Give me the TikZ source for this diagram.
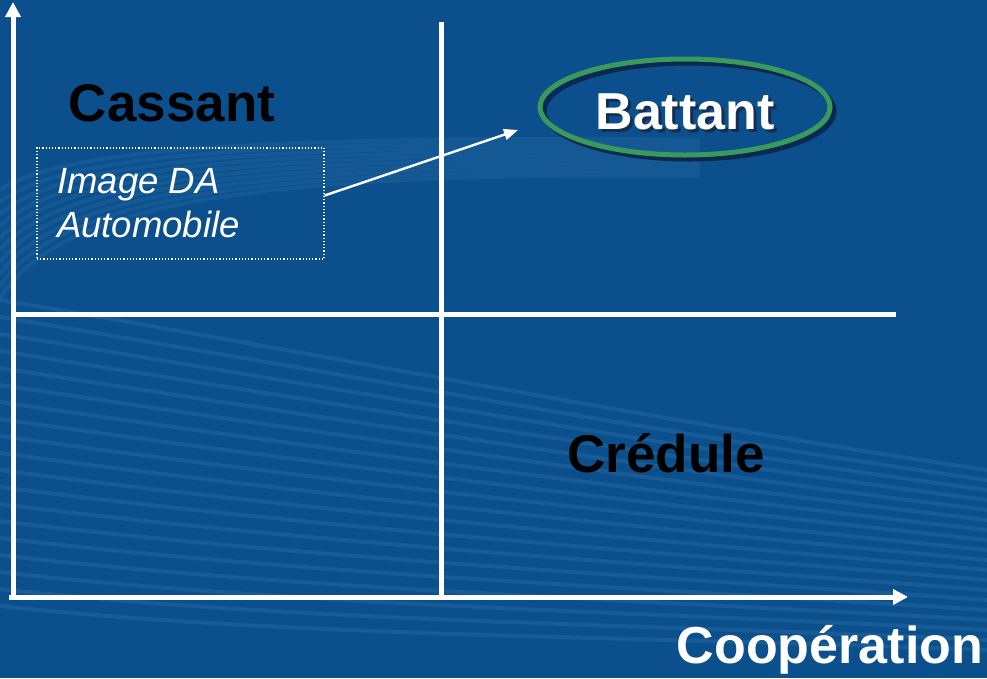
\documentclass[tikz,border=0pt]{standalone}
\usepackage{fontspec}
\setmainfont{Liberation Sans}
\usetikzlibrary{arrows.meta,shapes.geometric}
\definecolor{bgblue}{RGB}{11,80,141}
\definecolor{streak}{RGB}{130,190,240}
\definecolor{ringgreen}{RGB}{58,154,92}
\definecolor{ringshadow}{RGB}{10,40,80}
\definecolor{textshadow}{RGB}{20,45,80}
\tikzset{
  axisline/.style={white,line width=5pt},
  axisarrow/.style={white,line width=5pt,-{Triangle[length=15pt,width=15pt]}},
  quadlabel/.style={font=\fontsize{53}{60}\selectfont\bfseries,text=black,inner sep=0pt},
  whitelabel/.style={font=\fontsize{52}{60}\selectfont\bfseries,text=white,inner sep=0pt},
  notebox/.style={draw=white,dotted,line width=1.2pt,minimum width=287pt,minimum height=111pt,inner sep=0pt},
  notetext/.style={font=\fontsize{36.5}{44}\selectfont\itshape,text=white,align=left,inner sep=0pt},
  linkarrow/.style={white,line width=2.4pt,-{Triangle[length=14pt,width=11pt]}},
  streakline/.style={streak,opacity=0.10,line width=4pt}
}
\begin{document}
\begin{tikzpicture}[x=1pt,y=-1pt]
\fill[bgblue] (0,0) rectangle (987,678);
\useasboundingbox (0,0) rectangle (987,678);
% background streaks
\foreach \i in {0,...,18}{
  \draw[streakline] (0,300+\i*17) .. controls (300,350+\i*16) and (650,420+\i*12) .. (987,470+\i*10);
}
\foreach \i in {0,...,9}{
  \draw[streakline,opacity=0.08] (0,190+\i*12) .. controls (60,150+\i*6) and (250,135+\i*4) .. (700,140+\i*4);
}
% axes
\coordinate (origin) at (13,599);
\coordinate (ytop) at (13,2);
\coordinate (xend) at (908,597);
\coordinate (xstart) at (9,597);
\draw[axisarrow] (origin) -- (ytop);
\draw[axisarrow] (xstart) -- (xend);
% dividers
\coordinate (vtop) at (441,22);
\coordinate (vbot) at (441,597);
\coordinate (hleft) at (13,314);
\coordinate (hright) at (896,314);
\draw[axisline] (vtop) -- (vbot);
\draw[axisline] (hleft) -- (hright);
% labels
\node[quadlabel] (cassant) at (172,103) {Cassant};
\node[quadlabel] (credule) at (666,453) {Crédule};
\node[whitelabel] (coop) at (830,650) {Coopération};
% Battant ellipse
\node[ellipse,draw=ringshadow,line width=5pt,minimum width=290pt,minimum height=96pt] (battantshadow) at (689,111) {};
\node[ellipse,draw=ringgreen,line width=5pt,minimum width=290pt,minimum height=96pt] (battantring) at (685,107) {};
\node[whitelabel] (battant) at (685,113) {\rlap{\hspace{3pt}\raisebox{-3pt}{\textcolor{textshadow}{Battant}}}Battant};
% note box
\node[notebox] (note) at (180.5,203.5) {};
\node[notetext,anchor=north west] (notetxt) at (57,168) {Image DA\\Automobile};
\coordinate (linkend) at (518,130);
\draw[linkarrow] (note.east) ++(0,-8) coordinate (linkstart) -- (linkend);
\end{tikzpicture}
\end{document}
